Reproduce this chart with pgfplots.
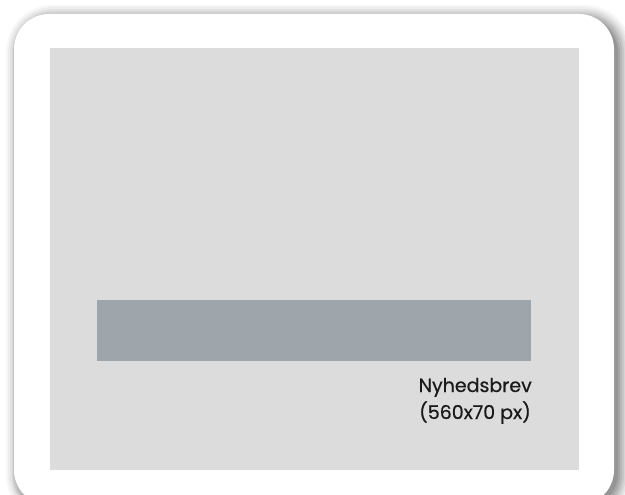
\documentclass[border=0pt]{standalone}
\usepackage{pgfplots}
\pgfplotsset{compat=1.18}
\usepackage{fontspec}
\setmainfont{Poppins}
\newfontfamily\labelfont{Poppins}[FakeBold=0.6]
\definecolor{panel}{HTML}{DCDCDC}
\definecolor{bar}{HTML}{9EA5AB}
\definecolor{txt}{HTML}{1A1A1A}
\begin{document}
\begin{tikzpicture}
\begin{axis}[
  width=625pt, height=495pt, scale only axis,
  xmin=0, xmax=625, ymin=0, ymax=495, y dir=reverse,
  hide axis, clip=true,
]
% background
\addplot[fill=white, draw=none] coordinates {(0,0) (625,0) (625,495) (0,495)} --cycle;
% shadow layers
\addplot[fill=black, fill opacity=0.03, draw=none, rounded corners=47pt] coordinates {(318,5) (632,5) (632,522) (6,522) (6,5)} --cycle;
\addplot[fill=black, fill opacity=0.035, draw=none, rounded corners=45pt] coordinates {(318,7) (630,7) (630,520) (8,520) (8,7)} --cycle;
\addplot[fill=black, fill opacity=0.045, draw=none, rounded corners=43pt] coordinates {(318,9) (628,9) (628,518) (10,518) (10,9)} --cycle;
\addplot[fill=black, fill opacity=0.055, draw=none, rounded corners=41pt] coordinates {(318,11) (626,11) (626,516) (12,516) (12,11)} --cycle;
\addplot[fill=black, fill opacity=0.065, draw=none, rounded corners=39pt] coordinates {(318,13) (624,13) (624,514) (13,514) (13,13)} --cycle;
\addplot[fill=black, fill opacity=0.08, draw=none, rounded corners=37pt] coordinates {(318,15) (622,15) (622,512) (15,512) (15,15)} --cycle;
\addplot[fill=black, fill opacity=0.09, draw=none, rounded corners=36pt] coordinates {(318,17) (620,17) (620,510) (17,510) (17,17)} --cycle;
\addplot[fill=black, fill opacity=0.10, draw=none, rounded corners=35pt] coordinates {(318,18) (618,18) (618,508) (18,508) (18,18)} --cycle;
% card
\addplot[fill=white, draw=none, rounded corners=35pt] coordinates {(314,14) (614,14) (614,505) (14,505) (14,14)} --cycle;
% inner panel
\addplot[fill=panel, draw=none] coordinates {(50,48) (579,48) (579,470) (50,470)} --cycle;
% banner bar
\addplot[fill=bar, draw=none] coordinates {(97,300) (531,300) (531,361) (97,361)} --cycle;
\node[anchor=base east, text=txt, font=\labelfont\fontsize{19pt}{22pt}\selectfont, inner sep=0pt] at (axis cs:532,392) {Nyhedsbrev};
\node[anchor=base east, text=txt, font=\labelfont\fontsize{19pt}{22pt}\selectfont, inner sep=0pt] at (axis cs:531,419) {(560x70 px)};
\end{axis}
\end{tikzpicture}
\end{document}
